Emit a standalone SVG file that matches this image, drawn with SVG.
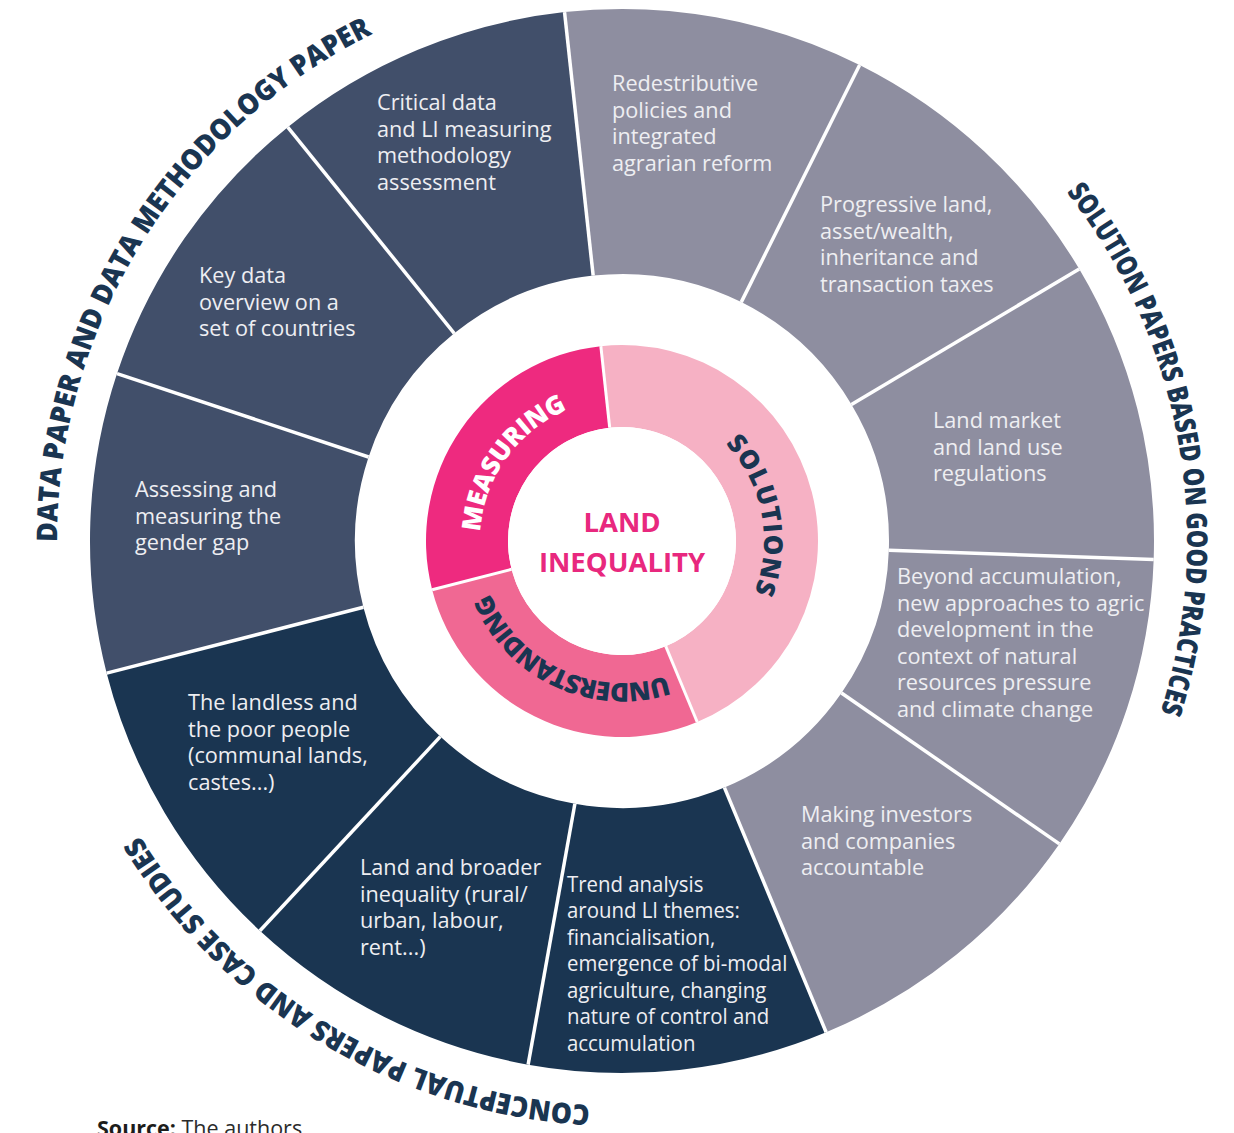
<svg xmlns="http://www.w3.org/2000/svg" width="1234" height="1133" viewBox="0 0 1234 1133">
  <defs>
    <style>
      .slate { fill: #414f6a; }
      .navy { fill: #1a3551; }
      .grey { fill: #8e8ea0; }
      .pink-strong { fill: #ee2a7f; }
      .pink-mid { fill: #f06893; }
      .pink-light { fill: #f6b1c4; }
      .sep { stroke: #ffffff; stroke-width: 3.5; fill: none; }
      .seg-text { font-family: "Open Sans", "Liberation Sans", sans-serif; font-size: 21.7px; fill: #eeeef2; }
      .ring-label { font-family: "Open Sans", "Liberation Sans", sans-serif; font-size: 26px; font-weight: 800; }
      .outer-label { font-family: "Open Sans", "Liberation Sans", sans-serif; font-size: 28.5px; font-weight: 800; fill: #1a3551; }
      .core { font-family: "Open Sans", "Liberation Sans", sans-serif; font-size: 27.5px; font-weight: 700; fill: #e8287e; }
      .source { font-family: "Open Sans", "Liberation Sans", sans-serif; font-size: 21.5px; fill: #2b2b2b; }
    </style>
    <!-- baseline arcs for curved labels, all drawn clockwise around (622,541) -->
    <path id="arc-measuring" d="M520.72,640.53 A142,142 0 0 1 683.13,412.83"/>
    <path id="arc-solutions" d="M619.52,399.02 A142,142 0 0 1 672.89,673.57"/>
    <path id="arc-understanding" d="M738.32,622.45 A142,142 0 0 1 484.84,504.25"/>
    <path id="arc-data" d="M123.83,807.56 A565,565 0 0 1 640.24,-23.71"/>
    <path id="arc-solution-papers" d="M812.92,9.23 A565,565 0 0 1 987.06,972.23"/>
    <path id="arc-conceptual" d="M896.78,1034.68 A565,565 0 0 1 57.07,532.12"/>
  </defs>

  <rect width="1234" height="1133" fill="#ffffff"/>

  <!-- outer ring: solutions (grey) -->
  <g id="redistributive">
    <path class="grey" d="M564.54,12.11 A532,532 0 0 1 859.60,65.01 L741.25,302.11 A267,267 0 0 0 593.16,275.56 Z"/>
    <text class="seg-text" x="612" y="91"><tspan x="612">Redestributive</tspan><tspan x="612" dy="26.5">policies and</tspan><tspan x="612" dy="26.5">integrated</tspan><tspan x="612" dy="26.5">agrarian reform</tspan></text>
  </g>
  <g id="progressive-taxes">
    <path class="grey" d="M859.60,65.01 A532,532 0 0 1 1079.23,269.03 L851.48,404.50 A267,267 0 0 0 741.25,302.11 Z"/>
    <text class="seg-text" x="820" y="212"><tspan x="820">Progressive land,</tspan><tspan x="820" dy="26.5">asset/wealth,</tspan><tspan x="820" dy="26.5">inheritance and</tspan><tspan x="820" dy="26.5">transaction taxes</tspan></text>
  </g>
  <g id="land-market">
    <path class="grey" d="M1079.23,269.03 A532,532 0 0 1 1153.68,559.40 L888.84,550.24 A267,267 0 0 0 851.48,404.50 Z"/>
    <text class="seg-text" x="933" y="428"><tspan x="933">Land market</tspan><tspan x="933" dy="26.5">and land use</tspan><tspan x="933" dy="26.5">regulations</tspan></text>
  </g>
  <g id="beyond-accumulation">
    <path class="grey" d="M1153.68,559.40 A532,532 0 0 1 1059.34,843.93 L841.49,693.04 A267,267 0 0 0 888.84,550.24 Z"/>
    <text class="seg-text" x="897" y="584"><tspan x="897">Beyond accumulation,</tspan><tspan x="897" dy="26.5">new approaches to agric</tspan><tspan x="897" dy="26.5">development in the</tspan><tspan x="897" dy="26.5">context of natural</tspan><tspan x="897" dy="26.5">resources pressure</tspan><tspan x="897" dy="26.5">and climate change</tspan></text>
  </g>
  <g id="investors-accountable">
    <path class="grey" d="M1059.34,843.93 A532,532 0 0 1 826.13,1032.28 L724.45,787.56 A267,267 0 0 0 841.49,693.04 Z"/>
    <text class="seg-text" x="801" y="822"><tspan x="801">Making investors</tspan><tspan x="801" dy="26.5">and companies</tspan><tspan x="801" dy="26.5">accountable</tspan></text>
  </g>

  <!-- outer ring: understanding (navy) -->
  <g id="trend-analysis">
    <path class="navy" d="M826.13,1032.28 A532,532 0 0 1 528.12,1064.65 L574.88,803.81 A267,267 0 0 0 724.45,787.56 Z"/>
    <!-- set a little narrower so the longest line stays inside the wedge -->
    <text class="seg-text" transform="translate(567 0) scale(0.94 1)" x="0" y="892"><tspan x="0">Trend analysis</tspan><tspan x="0" dy="26.5">around LI themes:</tspan><tspan x="0" dy="26.5">financialisation,</tspan><tspan x="0" dy="26.5">emergence of bi-modal</tspan><tspan x="0" dy="26.5">agriculture, changing</tspan><tspan x="0" dy="26.5">nature of control and</tspan><tspan x="0" dy="26.5">accumulation</tspan></text>
  </g>
  <g id="broader-inequality">
    <path class="navy" d="M528.12,1064.65 A532,532 0 0 1 259.92,930.77 L440.28,736.62 A267,267 0 0 0 574.88,803.81 Z"/>
    <text class="seg-text" x="360" y="875"><tspan x="360">Land and broader</tspan><tspan x="360" dy="26.5">inequality (rural/</tspan><tspan x="360" dy="26.5">urban, labour,</tspan><tspan x="360" dy="26.5">rent...)</tspan></text>
  </g>
  <g id="landless">
    <path class="navy" d="M259.92,930.77 A532,532 0 0 1 106.67,673.14 L363.37,607.32 A267,267 0 0 0 440.28,736.62 Z"/>
    <text class="seg-text" x="188" y="710"><tspan x="188">The landless and</tspan><tspan x="188" dy="26.5">the poor people</tspan><tspan x="188" dy="26.5">(communal lands,</tspan><tspan x="188" dy="26.5">castes...)</tspan></text>
  </g>

  <!-- outer ring: measuring (slate) -->
  <g id="gender-gap">
    <path class="slate" d="M106.67,673.14 A532,532 0 0 1 117.04,373.56 L368.57,456.97 A267,267 0 0 0 363.37,607.32 Z"/>
    <text class="seg-text" x="135" y="497"><tspan x="135">Assessing and</tspan><tspan x="135" dy="26.5">measuring the</tspan><tspan x="135" dy="26.5">gender gap</tspan></text>
  </g>
  <g id="key-data">
    <path class="slate" d="M117.04,373.56 A532,532 0 0 1 287.73,127.13 L454.24,333.29 A267,267 0 0 0 368.57,456.97 Z"/>
    <text class="seg-text" x="199" y="283"><tspan x="199">Key data</tspan><tspan x="199" dy="26.5">overview on a</tspan><tspan x="199" dy="26.5">set of countries</tspan></text>
  </g>
  <g id="critical-data">
    <path class="slate" d="M287.73,127.13 A532,532 0 0 1 564.54,12.11 L593.16,275.56 A267,267 0 0 0 454.24,333.29 Z"/>
    <text class="seg-text" x="377" y="110"><tspan x="377">Critical data</tspan><tspan x="377" dy="26.5">and LI measuring</tspan><tspan x="377" dy="26.5">methodology</tspan><tspan x="377" dy="26.5">assessment</tspan></text>
  </g>

  <!-- inner ring -->
  <g id="ring-solutions">
    <path class="pink-light" d="M600.83,346.15 A196,196 0 0 1 697.21,722.0 L665.74,646.27 A114,114 0 0 0 609.69,427.67 Z"/>
    <text class="ring-label" fill="#1a3551"><textPath href="#arc-solutions" startOffset="50%" text-anchor="middle" textLength="160">SOLUTIONS</textPath></text>
  </g>
  <g id="ring-understanding">
    <path class="pink-mid" d="M697.21,722.0 A196,196 0 0 1 432.14,589.68 L511.57,569.32 A114,114 0 0 0 665.74,646.27 Z"/>
    <text class="ring-label" fill="#1a3551"><textPath href="#arc-understanding" startOffset="50%" text-anchor="middle" textLength="215">UNDERSTANDING</textPath></text>
  </g>
  <g id="ring-measuring">
    <path class="pink-strong" d="M432.14,589.68 A196,196 0 0 1 600.83,346.15 L609.69,427.67 A114,114 0 0 0 511.57,569.32 Z"/>
    <text class="ring-label" fill="#ffffff"><textPath href="#arc-measuring" startOffset="50%" text-anchor="middle" textLength="158">MEASURING</textPath></text>
  </g>

  <!-- white separators between wedges -->
  <g id="separators" class="sep">
    <line x1="593.16" y1="275.56" x2="564.54" y2="12.11"/>
    <line x1="741.25" y1="302.11" x2="859.60" y2="65.01"/>
    <line x1="851.48" y1="404.50" x2="1079.23" y2="269.03"/>
    <line x1="888.84" y1="550.24" x2="1153.68" y2="559.40"/>
    <line x1="841.49" y1="693.04" x2="1059.34" y2="843.93"/>
    <line x1="724.45" y1="787.56" x2="826.13" y2="1032.28"/>
    <line x1="574.88" y1="803.81" x2="528.12" y2="1064.65"/>
    <line x1="440.28" y1="736.62" x2="259.92" y2="930.77"/>
    <line x1="363.37" y1="607.32" x2="106.67" y2="673.14"/>
    <line x1="368.57" y1="456.97" x2="117.04" y2="373.56"/>
    <line x1="454.24" y1="333.29" x2="287.73" y2="127.13"/>
    <line x1="609.69" y1="427.67" x2="600.83" y2="346.15" stroke-width="3"/>
    <line x1="665.74" y1="646.27" x2="697.21" y2="722.0" stroke-width="3"/>
    <line x1="511.57" y1="569.32" x2="432.14" y2="589.68" stroke-width="3"/>
  </g>

  <!-- centre -->
  <g id="land-inequality">
    <circle cx="622" cy="541" r="114" fill="#ffffff"/>
    <text class="core" x="622" y="532" text-anchor="middle">LAND</text>
    <text class="core" x="622" y="572" text-anchor="middle">INEQUALITY</text>
  </g>

  <!-- outer category labels -->
  <g id="label-data">
    <text class="outer-label"><textPath href="#arc-data" startOffset="50%" text-anchor="middle" textLength="630" lengthAdjust="spacingAndGlyphs">DATA PAPER AND DATA METHODOLOGY PAPER</textPath></text>
  </g>
  <g id="label-solution-papers">
    <text class="outer-label"><textPath href="#arc-solution-papers" startOffset="50%" text-anchor="middle" textLength="550" lengthAdjust="spacingAndGlyphs">SOLUTION PAPERS BASED ON GOOD PRACTICES</textPath></text>
  </g>
  <g id="label-conceptual">
    <text class="outer-label"><textPath href="#arc-conceptual" startOffset="50%" text-anchor="middle" textLength="546" lengthAdjust="spacingAndGlyphs">CONCEPTUAL PAPERS AND CASE STUDIES</textPath></text>
  </g>

  <text class="source" x="97" y="1136"><tspan font-weight="700" fill="#1d1d1b">Source:</tspan> The authors</text>
</svg>
